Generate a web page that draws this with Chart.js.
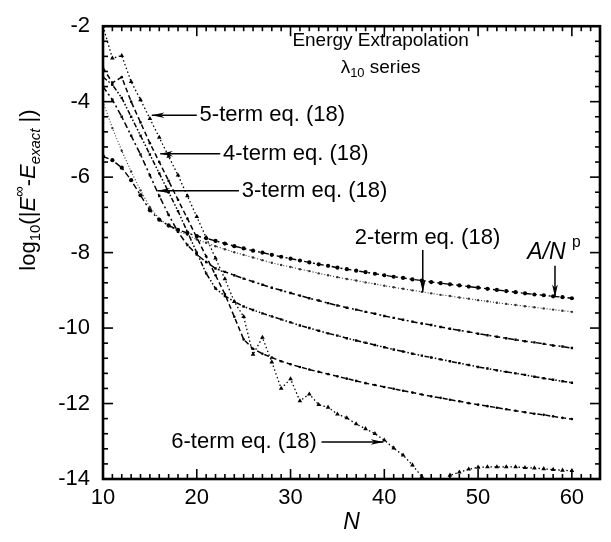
<!DOCTYPE html>
<html>
<head>
<meta charset="utf-8">
<script src="https://cdn.jsdelivr.net/npm/chart.js@4.4.0/dist/chart.umd.min.js"></script>
<style>
  html, body { margin: 0; padding: 0; background: #fff; }
  #wrap { width: 611px; height: 542px; }
</style>
</head>
<body>
<div id="wrap"><canvas id="chart"></canvas></div>
<script>
// N values (x axis)
const nValues = [10,11,12,13,14,15,16,17,18,19,20,21,22,23,24,25,26,27,28,29,30,
  31,32,33,34,35,36,37,38,39,40,41,42,43,44,45,46,47,48,49,50,
  51,52,53,54,55,56,57,58,59,60];

// log10 of the error
const powerLaw = [-5.45,-5.55,-5.75,-6.08,-6.48,-6.88,-7.13,-7.28,-7.40,-7.48,-7.56,
  -7.62,-7.69,-7.76,-7.83,-7.89,-7.95,-8.00,-8.06,-8.11,-8.16,
  -8.21,-8.26,-8.31,-8.35,-8.40,-8.44,-8.48,-8.52,-8.56,-8.60,
  -8.64,-8.67,-8.71,-8.74,-8.78,-8.81,-8.84,-8.87,-8.90,-8.93,
  -8.96,-8.99,-9.02,-9.05,-9.08,-9.11,-9.13,-9.16,-9.18,-9.21];
const term2 = [-4.00,-4.70,-5.30,-5.85,-6.35,-6.80,-7.10,-7.30,-7.43,-7.53,-7.65,
  -7.74,-7.83,-7.91,-7.99,-8.06,-8.13,-8.20,-8.27,-8.33,-8.38,
  -8.44,-8.49,-8.55,-8.60,-8.65,-8.70,-8.74,-8.79,-8.83,-8.88,
  -8.92,-8.96,-9.00,-9.04,-9.08,-9.12,-9.15,-9.19,-9.22,-9.26,
  -9.29,-9.33,-9.36,-9.39,-9.42,-9.45,-9.48,-9.51,-9.54,-9.57];
const term3 = [-3.60,-3.95,-4.40,-4.90,-5.40,-5.95,-6.50,-7.00,-7.45,-7.80,-8.05,
  -8.25,-8.42,-8.51,-8.60,-8.69,-8.77,-8.85,-8.93,-9.00,-9.07,
  -9.14,-9.21,-9.27,-9.34,-9.40,-9.46,-9.51,-9.57,-9.62,-9.68,
  -9.73,-9.78,-9.83,-9.88,-9.92,-9.97,-10.02,-10.06,-10.10,-10.15,
  -10.19,-10.23,-10.27,-10.31,-10.35,-10.38,-10.42,-10.46,-10.49,-10.53];
const term4 = [-3.35,-3.55,-3.90,-4.40,-4.90,-5.40,-5.90,-6.40,-6.90,-7.45,-8.00,
  -8.55,-8.95,-9.15,-9.30,-9.43,-9.52,-9.61,-9.69,-9.77,-9.85,
  -9.93,-10.00,-10.07,-10.14,-10.20,-10.27,-10.33,-10.39,-10.45,-10.51,
  -10.57,-10.62,-10.68,-10.73,-10.78,-10.83,-10.88,-10.93,-10.98,-11.03,
  -11.07,-11.12,-11.16,-11.20,-11.24,-11.29,-11.33,-11.37,-11.41,-11.45];
const term5 = [-3.10,-3.50,-3.35,-4.00,-4.55,-5.10,-5.60,-6.10,-6.60,-7.10,-7.60,
  -8.10,-8.60,-9.10,-9.70,-10.30,-10.55,-10.68,-10.78,-10.88,-10.96,
  -11.03,-11.10,-11.16,-11.22,-11.28,-11.34,-11.40,-11.46,-11.51,-11.56,
  -11.61,-11.66,-11.71,-11.76,-11.81,-11.85,-11.90,-11.94,-11.99,-12.03,
  -12.07,-12.11,-12.15,-12.19,-12.23,-12.27,-12.30,-12.34,-12.38,-12.41];
const term6 = [-2.00,-2.85,-2.78,-3.47,-3.95,-4.45,-4.95,-5.45,-5.95,-6.50,-7.05,
  -7.60,-8.15,-8.70,-9.30,-9.70,-10.70,-10.25,-10.90,-11.60,-11.35,
  -11.93,-11.75,-12.03,-12.10,-12.28,-12.38,-12.54,-12.67,-12.80,-12.97,
  -13.18,-13.37,-13.63,-13.94,-14.40,-14.30,-13.90,-13.82,-13.74,-13.69,
  -13.68,-13.68,-13.68,-13.68,-13.70,-13.71,-13.73,-13.75,-13.77,-13.78];

const xTicks = [10, 20, 30, 40, 50, 60];
const yTicks = [-2, -4, -6, -8, -10, -12, -14];

const FONT = '"Liberation Sans", Arial, sans-serif';

function pts(values) {
  return nValues.map((n, i) => ({ x: n, y: values[i] }));
}

function series(label, values, dash, style, radius, width, color) {
  return {
    label: label,
    data: pts(values),
    borderColor: color || '#000',
    backgroundColor: color || '#000',
    borderWidth: width,
    borderDash: dash,
    pointStyle: style,
    pointRadius: radius,
    pointBorderWidth: 0,
    tension: 0
  };
}

// rich text: parts with italic / sub / sup
function richText(ctx, parts, x, y, align, size) {
  let total = 0;
  const items = parts.map(p => {
    const fs = (p.sub || p.sup) ? size * 0.68 : size;
    const font = (p.it ? 'italic ' : '') + fs + 'px ' + FONT;
    ctx.font = font;
    const w = ctx.measureText(p.t).width;
    const dy = p.sub ? size * 0.32 : (p.sup ? -size * 0.42 : 0);
    total += w;
    return { t: p.t, font: font, w: w, dy: dy };
  });
  let cx = align === 'center' ? x - total / 2 : (align === 'right' ? x - total : x);
  ctx.textAlign = 'left';
  ctx.textBaseline = 'middle';
  items.forEach(it => {
    ctx.font = it.font;
    ctx.fillText(it.t, cx, y + it.dy);
    cx += it.w;
  });
}

function arrow(ctx, x1, y1, x2, y2) {
  ctx.beginPath();
  ctx.moveTo(x1, y1);
  ctx.lineTo(x2, y2);
  ctx.stroke();
  const ang = Math.atan2(y2 - y1, x2 - x1), len = 13, spread = 0.22;
  ctx.beginPath();
  ctx.moveTo(x2, y2);
  ctx.lineTo(x2 - len * Math.cos(ang - spread), y2 - len * Math.sin(ang - spread));
  ctx.lineTo(x2 - len * 0.7 * Math.cos(ang), y2 - len * 0.7 * Math.sin(ang));
  ctx.lineTo(x2 - len * Math.cos(ang + spread), y2 - len * Math.sin(ang + spread));
  ctx.closePath();
  ctx.fill();
}

const framePlugin = {
  id: 'frame',
  afterDraw(chart) {
    const ctx = chart.ctx;
    const a = chart.chartArea;
    const x = chart.scales.x, y = chart.scales.y;
    const line = (x1, y1, x2, y2) => {
      ctx.beginPath(); ctx.moveTo(x1, y1); ctx.lineTo(x2, y2); ctx.stroke();
    };
    ctx.save();
    ctx.strokeStyle = '#000';
    ctx.fillStyle = '#000';

    // inward ticks, all four sides
    ctx.lineWidth = 1.6;
    for (let n = 10; n <= 70; n++) {
      const px = x.getPixelForValue(n);
      if (px > a.right - 1) break;
      const len = n % 10 === 0 ? 10 : 5;
      line(px, a.bottom, px, a.bottom - len);
      line(px, a.top, px, a.top + len);
    }
    for (let k = 0; k <= 30; k++) {
      const py = y.getPixelForValue(-14 + k * 0.4);
      const len = k % 5 === 0 ? 10 : 5;
      line(a.left, py, a.left + len, py);
      line(a.right, py, a.right - len, py);
    }
    ctx.lineWidth = 2.6;
    ctx.strokeRect(a.left, a.top, a.right - a.left, a.bottom - a.top);

    // labels inside the plot
    const fs = 22;
    const X = v => x.getPixelForValue(v), Y = v => y.getPixelForValue(v);
    richText(ctx, [{ t: 'Energy Extrapolation' }], X(39.6), Y(-2.38), 'center', 19);
    richText(ctx, [{ t: 'λ' }, { t: '10', sub: true }, { t: ' series' }], X(39.6), Y(-3.1), 'center', 19);

    ctx.lineWidth = 1.5;
    richText(ctx, [{ t: '5-term eq. (18)' }], X(20.3), Y(-4.36), 'left', fs);
    arrow(ctx, X(20.0), Y(-4.36), X(15.2), Y(-4.36));
    richText(ctx, [{ t: '4-term eq. (18)' }], X(22.8), Y(-5.38), 'left', fs);
    arrow(ctx, X(22.5), Y(-5.38), X(16.1), Y(-5.38));
    richText(ctx, [{ t: '3-term eq. (18)' }], X(24.8), Y(-6.36), 'left', fs);
    arrow(ctx, X(24.5), Y(-6.36), X(15.8), Y(-6.36));
    richText(ctx, [{ t: '2-term eq. (18)' }], X(44.6), Y(-7.6), 'center', fs);
    arrow(ctx, X(44.1), Y(-7.93), X(44.1), Y(-9.05));
    richText(ctx, [{ t: 'A/N', it: true }, { t: ' ' }, { t: 'p', sup: true }], X(58.1), Y(-8.0), 'center', fs + 1);
    arrow(ctx, X(58.2), Y(-8.35), X(58.2), Y(-9.18));
    richText(ctx, [{ t: '6-term eq. (18)' }], X(32.8), Y(-13.02), 'right', fs);
    arrow(ctx, X(33.3), Y(-13.02), X(39.9), Y(-13.02));

    // axis titles
    ctx.save();
    ctx.translate(29, 190);
    ctx.rotate(-Math.PI / 2);
    richText(ctx, [
      { t: 'log' }, { t: '10', sub: true }, { t: '(|' }, { t: 'E', it: true }, { t: '∞', sup: true },
      { t: '-' }, { t: 'E', it: true }, { t: 'exact', it: true, sub: true }, { t: ' |)' }
    ], 0, 0, 'center', 22);
    ctx.restore();
    richText(ctx, [{ t: 'N', it: true }], (a.left + a.right) / 2, 523, 'center', 23);
    ctx.restore();
  }
};

new Chart(document.getElementById('chart'), {
  type: 'line',
  data: {
    datasets: [
      series('A/N^p', powerLaw, [6, 3, 2, 3], 'circle', 2.1, 1.4),
      series('2-term', term2, [1, 2], 'circle', 1.2, 1.1, '#333'),
      series('3-term', term3, [6, 3, 2, 3], 'rect', 1.7, 1.5),
      series('4-term', term4, [5, 2, 1.5, 2, 1.5, 2], 'rect', 1.7, 1.5),
      series('5-term', term5, [5, 3], 'circle', 1.3, 1.5),
      series('6-term', term6, [1.5, 2.5], 'triangle', 2.7, 1.3)
    ]
  },
  options: {
    responsive: true,
    maintainAspectRatio: false,
    animation: false,
    layout: { padding: { top: 20, right: 11, left: 0, bottom: 0 } },
    plugins: { legend: { display: false }, tooltip: { enabled: false } },
    scales: {
      x: {
        type: 'linear',
        min: 10,
        max: 63,
        grid: { display: false, drawTicks: false },
        border: { display: false },
        afterFit: s => { s.height = 63; },
        afterBuildTicks: s => { s.ticks = xTicks.map(v => ({ value: v })); },
        ticks: { padding: 6, color: '#000', font: { family: FONT, size: 22 } }
      },
      y: {
        type: 'linear',
        min: -14,
        max: -2,
        grid: { display: false, drawTicks: false },
        border: { display: false },
        afterFit: s => { s.width = 103; },
        afterBuildTicks: s => { s.ticks = yTicks.map(v => ({ value: v })); },
        ticks: { padding: 13, color: '#000', font: { family: FONT, size: 22 } }
      }
    }
  },
  plugins: [framePlugin]
});
</script>
</body>
</html>
